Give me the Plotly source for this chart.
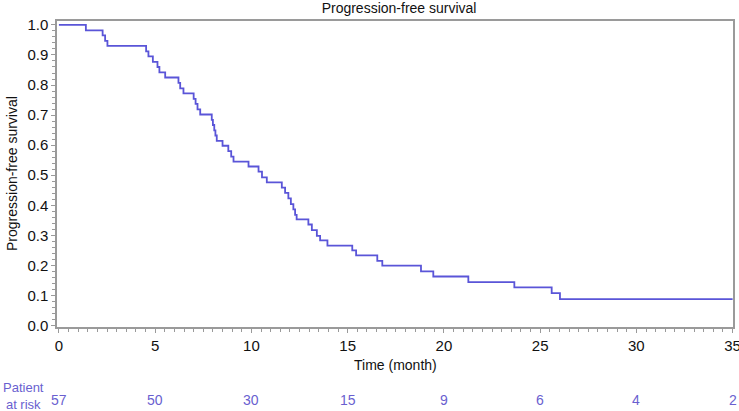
import plotly.graph_objects as go

# Kaplan-Meier step curve (time in months, survival after each step)
time_months = [0, 1.40, 2.27, 2.40, 2.52, 4.53, 4.65, 4.88, 5.12, 5.22, 5.52,
               6.21, 6.30, 6.47, 7.00, 7.10, 7.20, 7.34, 7.94, 8.00, 8.07, 8.13,
               8.20, 8.50, 8.80, 8.95, 9.07, 9.85, 10.37, 10.55, 10.80, 11.58,
               11.75, 11.92, 12.05, 12.18, 12.27, 12.35, 12.96, 13.14, 13.40,
               13.57, 13.95, 15.24, 15.44, 16.54, 16.80, 18.81, 19.45, 21.27,
               23.66, 25.60, 26.03, 35.0]
survival = [1.0, 0.982, 0.965, 0.947, 0.930, 0.912, 0.895, 0.877, 0.860, 0.842,
            0.825, 0.807, 0.789, 0.772, 0.754, 0.737, 0.719, 0.702, 0.684, 0.667,
            0.649, 0.632, 0.614, 0.598, 0.580, 0.562, 0.545, 0.529, 0.512, 0.493,
            0.476, 0.459, 0.441, 0.423, 0.404, 0.386, 0.368, 0.353, 0.336, 0.317,
            0.298, 0.283, 0.266, 0.250, 0.233, 0.215, 0.199, 0.180, 0.163, 0.144,
            0.127, 0.108, 0.088, 0.088]

risk_times = [0, 5, 10, 15, 20, 25, 30, 35]
at_risk = [57, 50, 30, 15, 9, 6, 4, 2]

line_color = "#5a55d8"
risk_color = "#6a5fd0"
axis_color = "#9a9a9a"
font_family = "Liberation Sans, Arial, sans-serif"

fig = go.Figure()
fig.add_trace(go.Scatter(
    x=time_months, y=survival, mode="lines", line_shape="hv",
    line=dict(color=line_color, width=1.8), showlegend=False,
    hoverinfo="skip"))

fig.update_layout(
    width=739, height=411,
    margin=dict(l=57, r=6, t=21, b=84, autoexpand=False),
    paper_bgcolor="white", plot_bgcolor="white",
    font=dict(family=font_family, size=14, color="#111111"),
    title=dict(text="Progression-free survival", x=0.54, xref="container",
               y=1 - 8 / 411, yref="container", xanchor="center", yanchor="middle",
               font=dict(size=14, color="#111111")),
    xaxis=dict(range=[-0.1, 35.02], tickmode="array", tickvals=risk_times,
               ticks="outside", ticklen=4, tickcolor=axis_color, tickwidth=1,
               showline=True, linecolor=axis_color, linewidth=1.5, mirror=True,
               showgrid=False, zeroline=False, ticklabeloverflow="allow",
               automargin=False,
               minor=dict(dtick=0.5, ticks="outside", ticklen=3, tickcolor=axis_color),
               tickfont=dict(size=15, color="#111111")),
    yaxis=dict(range=[-0.005, 1.013], tickmode="array",
               tickvals=[i / 10 for i in range(11)],
               ticktext=[f"{i / 10:.1f}" for i in range(11)],
               ticks="outside", ticklen=4, tickcolor=axis_color, tickwidth=1,
               showline=True, linecolor=axis_color, linewidth=1.5, mirror=True,
               showgrid=False, zeroline=False, automargin=False,
               minor=dict(dtick=0.02, ticks="outside", ticklen=3, tickcolor=axis_color),
               tickfont=dict(size=15, color="#111111")),
)

annotations = [
    dict(text="Time (month)", xref="paper", yref="paper", x=0.5, y=-(365 - 327) / 306,
         xanchor="center", yanchor="middle", showarrow=False,
         font=dict(size=14, color="#111111")),
    dict(text="Progression-free survival", xref="paper", yref="paper",
         x=(12 - 57) / 676, y=0.5, textangle=-90, xanchor="center", yanchor="middle",
         showarrow=False, font=dict(size=14, color="#111111")),
    dict(text="Patient<br>at risk", xref="paper", yref="paper",
         x=(23 - 57) / 676, y=-(396 - 327) / 306, xanchor="center", yanchor="middle",
         align="center", showarrow=False, font=dict(size=13, color=risk_color)),
]
for t, n in zip(risk_times, at_risk):
    annotations.append(dict(text=str(n), xref="x", yref="paper", x=t,
                            y=-(400 - 327) / 306, xanchor="center", yanchor="middle",
                            showarrow=False, font=dict(size=14, color=risk_color)))
fig.update_layout(annotations=annotations)

fig.write_html("out.html", config={"displayModeBar": False},
               post_script="document.body.style.margin='0';document.body.style.overflow='hidden';")
